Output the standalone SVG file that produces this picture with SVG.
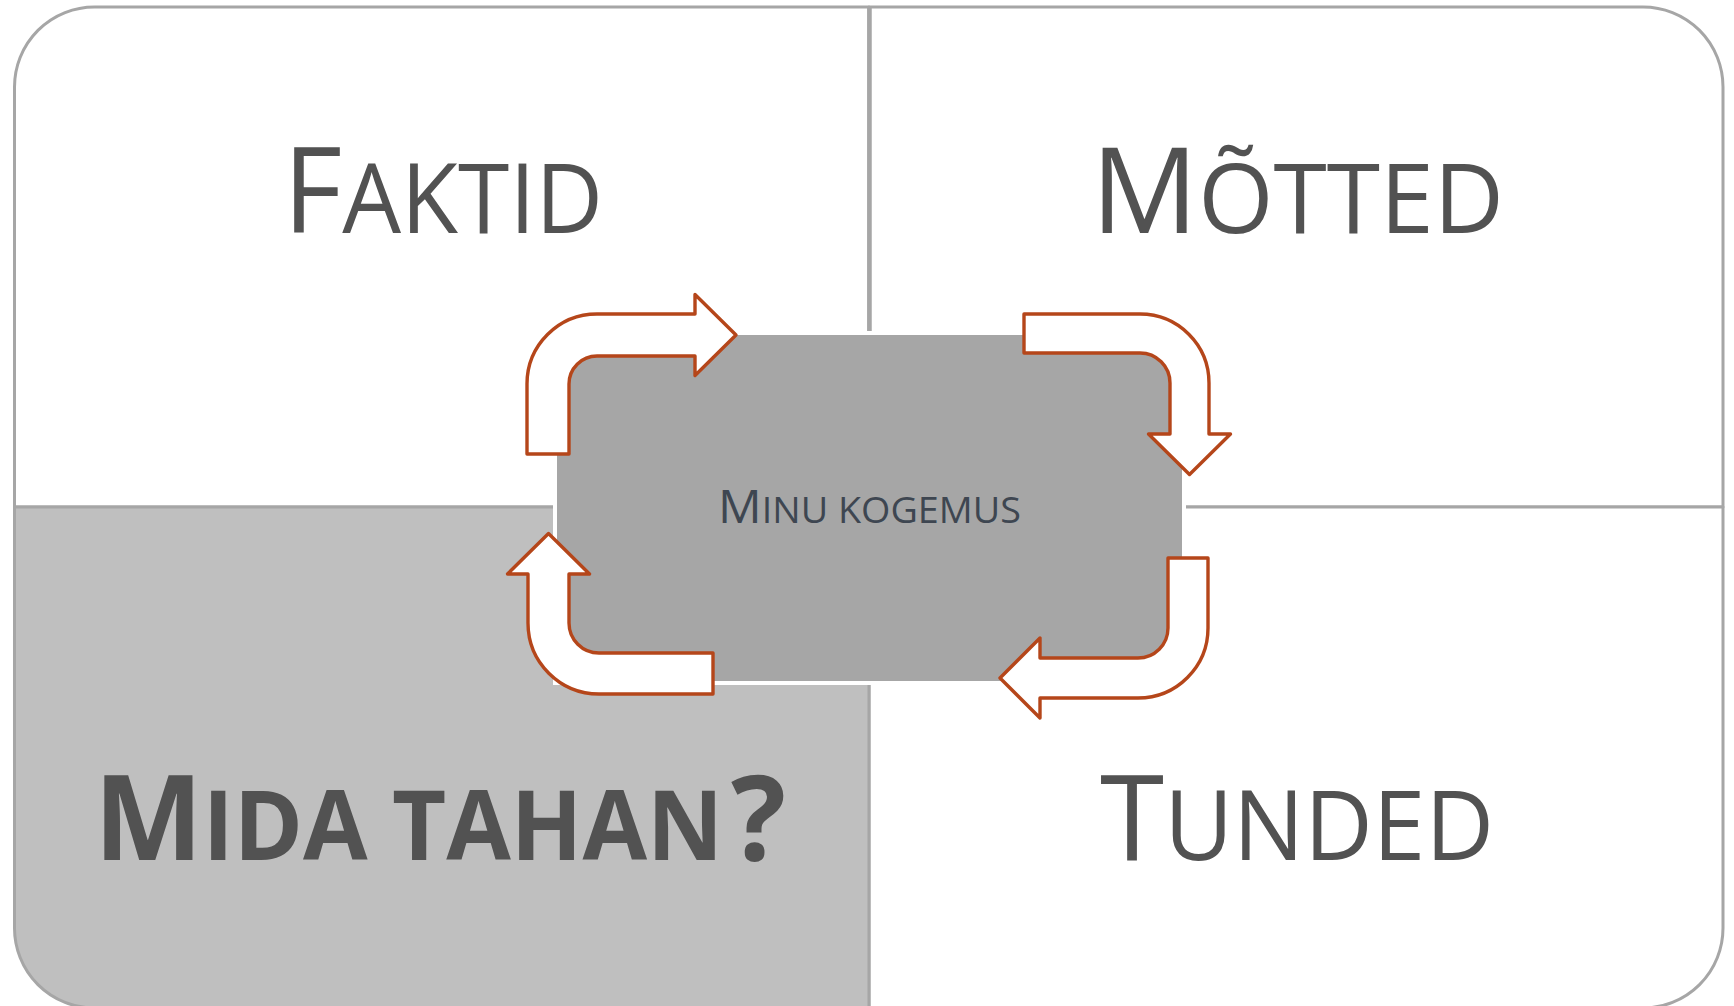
<svg xmlns="http://www.w3.org/2000/svg" width="1734" height="1006" viewBox="0 0 1734 1006">
  <style>
    .quad { stroke: #a6a6a6; stroke-width: 3; stroke-linejoin: round; }
    .divider { stroke: #a6a6a6; stroke-width: 4.5; }
    .label { font-family: "Open Sans", "Noto Sans", "Liberation Sans", sans-serif; fill: #525252; }
    .big { font-size: 119px; }
    .small { font-size: 96.6px; }
    .bold { font-weight: 700; }
    .center-label { font-family: "Open Sans", "Noto Sans", "Liberation Sans", sans-serif; fill: #3e4651; }
    .cycle { fill: #ffffff; stroke: #b5461a; stroke-width: 3.4; stroke-linejoin: round; }
  </style>

  <rect width="1734" height="1006" fill="#ffffff"/>

  <!-- four quadrants of the matrix -->
  <g id="quadrant-faktid">
    <path class="quad" fill="#ffffff" d="M 14.5 507 V 87 A 80 80 0 0 1 94.5 7 H 869 V 507 Z"/>
  </g>
  <g id="quadrant-motted">
    <path class="quad" fill="#ffffff" d="M 869 7 H 1643 A 80 80 0 0 1 1723 87 V 507 H 869 Z"/>
    <line class="divider" x1="869.5" y1="7" x2="869.5" y2="332"/>
  </g>
  <g id="quadrant-tunded">
    <path class="quad" fill="#ffffff" d="M 869 507 H 1723 V 928 A 80 80 0 0 1 1643 1008 H 869 Z"/>
  </g>
  <g id="quadrant-mida-tahan">
    <path class="quad" fill="#bfbfbf" d="M 14.5 507 H 869 V 1008 H 94.5 A 80 80 0 0 1 14.5 928 Z"/>
  </g>

  <!-- central block -->
  <g id="center-minu-kogemus">
    <rect x="553" y="331" width="633" height="354" fill="#ffffff"/>
    <rect x="557" y="335" width="625" height="346" fill="#a6a6a6"/>
    <text class="center-label" x="718" y="523" textLength="303" lengthAdjust="spacingAndGlyphs"><tspan font-size="45.8px">M</tspan><tspan font-size="35.6px">INU KOGEMUS</tspan></text>
  </g>

  <!-- cycle arrows around the central block -->
  <g id="connectors">
    <path class="cycle" d="M 527 454 V 384 A 70 70 0 0 1 597 314 H 695 V 294.5 L 736 335 L 695 375.5 V 356 H 597 A 28 28 0 0 0 569 384 V 454 Z"/>
    <path class="cycle" d="M 1024 314 H 1140 A 69 69 0 0 1 1209 383 V 434 H 1230.5 L 1189.5 474.5 L 1148.5 434 H 1170 V 383 A 30 30 0 0 0 1140 353 H 1024 Z"/>
    <path class="cycle" d="M 1168 558 H 1208 V 628 A 70 70 0 0 1 1138 698 H 1040 V 718 L 1000 678 L 1040 638 V 658 H 1138 A 30 30 0 0 0 1168 628 Z"/>
    <path class="cycle" d="M 713 694 H 599 A 71 71 0 0 1 528 623 V 574 H 507.5 L 548.5 533.5 L 589.5 574 H 569 V 623 A 30 30 0 0 0 599 653 H 713 Z"/>
  </g>

  <!-- quadrant labels -->
  <g id="label-faktid">
    <text class="label" x="283" y="233" textLength="320" lengthAdjust="spacingAndGlyphs"><tspan class="big">F</tspan><tspan class="small">AKTID</tspan></text>
  </g>
  <g id="label-motted">
    <text class="label" x="1091" y="233" textLength="413" lengthAdjust="spacingAndGlyphs"><tspan class="big">M</tspan><tspan class="small">ÕTTED</tspan></text>
  </g>
  <g id="label-tunded">
    <text class="label" x="1100" y="860" textLength="394" lengthAdjust="spacingAndGlyphs"><tspan class="big">T</tspan><tspan class="small">UNDED</tspan></text>
  </g>
  <g id="label-mida-tahan">
    <text class="label bold" x="94" y="860" textLength="692" lengthAdjust="spacingAndGlyphs"><tspan class="big">M</tspan><tspan class="small">IDA TAHAN</tspan><tspan class="big" dx="8">?</tspan></text>
  </g>
</svg>
